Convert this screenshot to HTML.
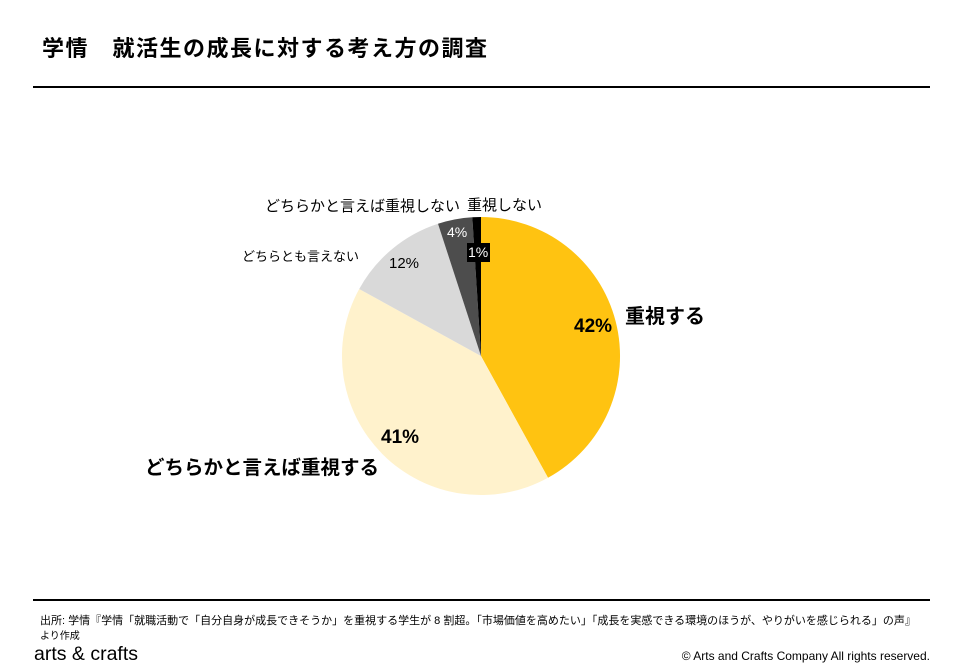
<!DOCTYPE html>
<html><head><meta charset="utf-8"><style>
body{margin:0;width:961px;height:667px;background:#fff;position:relative;overflow:hidden;font-family:"Liberation Sans","Noto Sans CJK JP",sans-serif;color:#000}
.t{position:absolute;white-space:nowrap;line-height:1}
</style></head><body>
<div class="t" style="left:42px;top:38px;font-size:22px;font-weight:bold;letter-spacing:1.5px">学情　就活生の成長に対する考え方の調査</div>
<div style="position:absolute;left:33px;top:86px;width:897px;height:2px;background:#000"></div>
<svg width="961" height="667" style="position:absolute;left:0;top:0">
<path d="M481,356 L481,217 A139,139 0 0 1 548,477.8 Z" fill="#FFC311"/>
<path d="M481,356 L548,477.8 A139,139 0 0 1 359.2,289 Z" fill="#FFF2CC"/>
<path d="M481,356 L359.2,289 A139,139 0 0 1 438,223.8 Z" fill="#D9D9D9"/>
<path d="M481,356 L438,223.8 A139,139 0 0 1 472.3,217.3 Z" fill="#4D4D4D"/>
<path d="M481,356 L472.3,217.3 A139,139 0 0 1 481,217 Z" fill="#000"/>
<rect x="467" y="243" width="23" height="19" fill="#000"/>
</svg>
<div class="t" style="left:574px;top:317px;font-size:19px;font-weight:bold">42%</div>
<div class="t" style="left:625px;top:307px;font-size:20px;font-weight:bold">重視する</div>
<div class="t" style="left:381px;top:428px;font-size:19px;font-weight:bold">41%</div>
<div class="t" style="left:145px;top:459px;font-size:19.5px;font-weight:bold">どちらかと言えば重視する</div>
<div class="t" style="left:389px;top:256px;font-size:15px">12%</div>
<div class="t" style="left:242px;top:250px;font-size:13px">どちらとも言えない</div>
<div class="t" style="left:265px;top:199px;font-size:15px">どちらかと言えば重視しない</div>
<div class="t" style="left:467px;top:198px;font-size:15px">重視しない</div>
<div class="t" style="left:447px;top:225px;font-size:14px;color:#fff">4%</div>
<div class="t" style="left:468px;top:245px;font-size:14px;color:#fff">1%</div>
<div style="position:absolute;left:33px;top:599px;width:897px;height:2px;background:#000"></div>
<div class="t" style="left:40px;top:616px;font-size:11px">出所: 学情『学情「就職活動で「自分自身が成長できそうか」を重視する学生が 8 割超。「市場価値を高めたい」「成長を実感できる環境のほうが、やりがいを感じられる」の声』</div>
<div class="t" style="left:40px;top:632px;font-size:10px">より作成</div>
<div class="t" style="left:34px;top:645px;font-size:19.5px">arts &amp; crafts</div>
<div class="t" style="right:31px;top:650px;font-size:12px">© Arts and Crafts Company All rights reserved.</div>
</body></html>
